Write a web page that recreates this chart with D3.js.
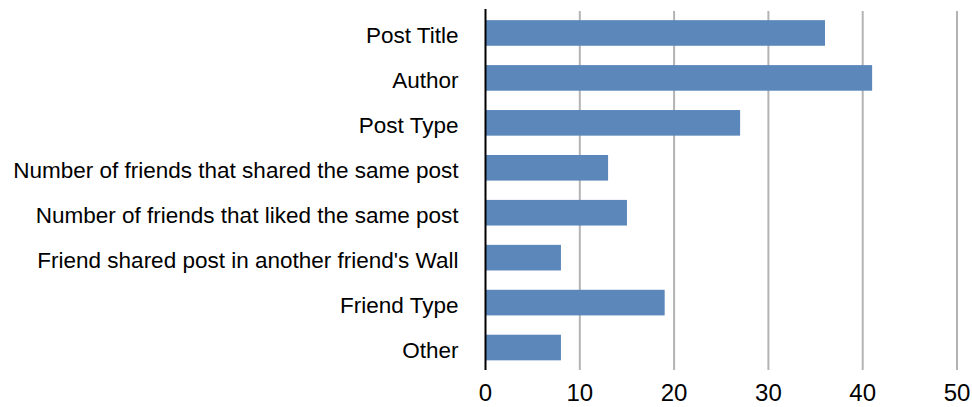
<!DOCTYPE html>
<html>
<head>
<meta charset="utf-8">
<script src="https://cdn.jsdelivr.net/npm/d3@7"></script>
<style>
  html, body { margin: 0; padding: 0; background: #fff; }
  svg { display: block; font-family: "Liberation Sans", Arial, Helvetica, sans-serif; }
</style>
</head>
<body>
<svg id="chart" width="972" height="407"></svg>
<script>
// Factors considered when choosing which posts to read
const categories = [
  "Post Title",
  "Author",
  "Post Type",
  "Number of friends that shared the same post",
  "Number of friends that liked the same post",
  "Friend shared post in another friend's Wall",
  "Friend Type",
  "Other"
];
const counts = [36, 41, 27, 13, 15, 8, 19, 8];
const xTicks = [0, 10, 20, 30, 40, 50];

const svg = d3.select("#chart");
const plot = { left: 485.5, right: 957, top: 10.5, bottom: 370 };

const x = d3.scaleLinear().domain([0, 50]).range([plot.left, plot.right]);
const y = d3.scaleBand().domain(categories).range([plot.top, plot.bottom]).paddingInner(0.43).paddingOuter(0.215);

// vertical gridlines
svg.append("g")
  .selectAll("line")
  .data(xTicks.filter(d => d > 0))
  .join("line")
  .attr("x1", d => x(d)).attr("x2", d => x(d))
  .attr("y1", 11).attr("y2", plot.bottom)
  .attr("stroke", "#b3b3b3")
  .attr("stroke-width", 2);

// bars
svg.append("g")
  .selectAll("rect")
  .data(categories)
  .join("rect")
  .attr("x", x(0))
  .attr("y", d => y(d))
  .attr("width", (d, i) => x(counts[i]) - x(0))
  .attr("height", y.bandwidth())
  .attr("fill", "#5b87bb");

// category axis line
svg.append("line")
  .attr("x1", x(0)).attr("x2", x(0))
  .attr("y1", 9).attr("y2", plot.bottom)
  .attr("stroke", "#000")
  .attr("stroke-width", 2);

// category labels
svg.append("g")
  .selectAll("text")
  .data(categories)
  .join("text")
  .attr("x", 458.5)
  .attr("y", d => y(d) + y.bandwidth() / 2)
  .attr("dy", "0.46em")
  .attr("text-anchor", "end")
  .attr("font-size", 22.5)
  .attr("fill", "#000")
  .text(d => d);

// value axis tick labels
svg.append("g")
  .selectAll("text")
  .data(xTicks)
  .join("text")
  .attr("x", d => x(d))
  .attr("y", 401)
  .attr("text-anchor", "middle")
  .attr("font-size", 24)
  .attr("fill", "#000")
  .text(d => d);
</script>
</body>
</html>
